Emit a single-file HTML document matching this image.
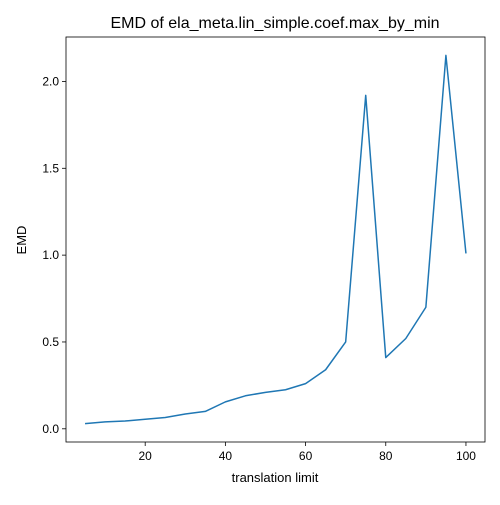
<!DOCTYPE html>
<html><head><meta charset="utf-8"><style>
html,body{margin:0;padding:0;background:#fff;}
svg text{font-family:"Liberation Sans","DejaVu Sans",sans-serif;fill:#000;}
</style></head><body>
<svg id="chart" width="500" height="500" viewBox="0 0 500 500">
<rect x="0" y="0" width="500" height="500" fill="#fff"/>
<text x="275" y="28" font-size="16" text-anchor="middle">EMD of ela_meta.lin_simple.coef.max_by_min</text>
<g id="xticks"></g>
<g id="yticks"></g>
<path id="line" fill="none" stroke="#1f77b4" stroke-width="1.5" stroke-linejoin="round"/>
<rect x="66" y="37" width="419" height="405" fill="none" stroke="#000" stroke-width="0.8"/>
<text x="275" y="482" font-size="13" text-anchor="middle">translation limit</text>
<text x="26" y="240" font-size="13" text-anchor="middle" transform="rotate(-90 26 240)">EMD</text>
</svg>
<script>
const xValues = [5,10,15,20,25,30,35,40,45,50,55,60,65,70,75,80,85,90,95,100];
const emdValues = [0.03,0.04,0.045,0.055,0.065,0.085,0.1,0.155,0.19,0.21,0.225,0.26,0.34,0.5,1.92,0.41,0.52,0.70,2.15,1.01];
const xTickValues = [20,40,60,80,100];
const yTickValues = [0.0,0.5,1.0,1.5,2.0];
const yTickLabels = ["0.0","0.5","1.0","1.5","2.0"];

const L=66,R=485,T=37,B=442;
const xmin=Math.min(...xValues), xmax=Math.max(...xValues);
const ymin=Math.min(...emdValues), ymax=Math.max(...emdValues);
const xp=(xmax-xmin)*0.05, yp=(ymax-ymin)*0.05;
const x0=xmin-xp,x1=xmax+xp,y0=ymin-yp,y1=ymax+yp;
const sx=v=>L+(v-x0)/(x1-x0)*(R-L);
const sy=v=>B-(v-y0)/(y1-y0)*(B-T);
const NS="http://www.w3.org/2000/svg";
const xg=document.getElementById('xticks'), yg=document.getElementById('yticks');
xTickValues.forEach(v=>{
  const l=document.createElementNS(NS,'line');
  
  
  l.setAttribute('x1',sx(v));l.setAttribute('x2',sx(v));l.setAttribute('y1',B);l.setAttribute('y2',B+4);l.setAttribute('stroke','#000');l.setAttribute('stroke-width','0.8');
  xg.appendChild(l);
  const t=document.createElementNS(NS,'text');
  
  
  t.setAttribute('x',sx(v));t.setAttribute('y',B+18);t.setAttribute('font-size','12');t.setAttribute('text-anchor','middle');
  t.textContent=String(v);xg.appendChild(t);
});
yTickValues.forEach((v,i)=>{
  const l=document.createElementNS(NS,'line');
  
  
  l.setAttribute('x1',L-4);l.setAttribute('x2',L);l.setAttribute('y1',sy(v));l.setAttribute('y2',sy(v));l.setAttribute('stroke','#000');l.setAttribute('stroke-width','0.8');
  yg.appendChild(l);
  const t=document.createElementNS(NS,'text');
  
  
  t.setAttribute('x',L-7);t.setAttribute('y',sy(v)+4);t.setAttribute('font-size','12');t.setAttribute('text-anchor','end');
  t.textContent=yTickLabels[i];yg.appendChild(t);
});
document.getElementById('line').setAttribute('d',xValues.map((v,i)=>(i?'L':'M')+sx(v).toFixed(2)+','+sy(emdValues[i]).toFixed(2)).join(' '));
</script>
</body></html>
